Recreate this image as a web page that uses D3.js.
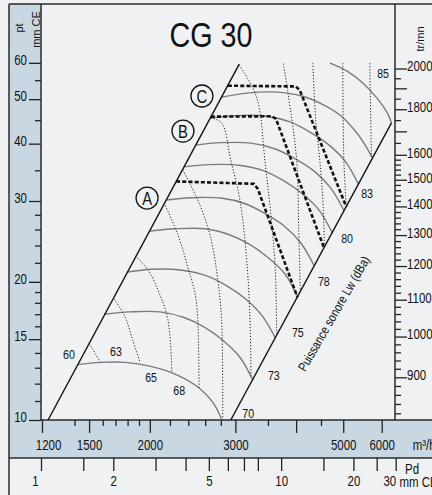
<!DOCTYPE html>
<html>
<head>
<meta charset="utf-8">
<script src="https://cdn.jsdelivr.net/npm/d3@7"></script>
<style>
body { margin: 0; background: #eff1f3; }
svg { display: block; }
text { font-family: "Liberation Sans", Arial, sans-serif; fill: #111; }
</style>
</head>
<body>
<div id="root"></div>
<script>
const width = 432;
const height = 495;
const BAND = '#c9d7e2';
const SX = 0.82; // condensed look

// axes
const flowLabels = [1200, 1500, 2000, 3000, 5000, 6000];
const flowMajor = [1200, 1500, 2000, 3000, 4000, 5000, 6000];
const flowMinor = [1400, 1600, 1700, 1800, 1900, 2200, 2400, 2600, 2800, 3500, 4500];
const pressureLabels = [10, 15, 20, 30, 40, 50, 60];
const pressureMinor = [11, 12, 13, 14, 16, 17, 18, 19, 22, 24, 26, 28, 35, 45, 55];
const rpmLabels = [900, 1000, 1100, 1200, 1300, 1400, 1500, 1600, 1800, 2000];
const rpmLong = [1700, 1900];
const rpmMinor = [820, 840, 860, 880, 920, 940, 960, 980, 1020, 1040, 1060, 1080,
    1120, 1140, 1160, 1180, 1220, 1240, 1260, 1280, 1320, 1340, 1360, 1380,
    1420, 1440, 1460, 1480, 1520, 1540, 1560, 1580, 1650, 1750, 1850, 1950];
const pdLabels = [1, 2, 5, 10, 20, 30];
const pdLong = [1, 1.5, 2, 3, 4, 5, 6, 7, 8, 10, 15, 20, 25, 30];
const pdMinor = [1.1, 1.2, 1.3, 1.4, 1.6, 1.7, 1.8, 1.9, 2.5, 3.5, 4.5, 5.5, 6.5, 7.5, 8.5, 9, 9.5,
    11, 12, 13, 14, 16, 17, 18, 19, 21, 22, 23, 24, 26, 27, 28, 29];

// fan curves [m3/h, mm CE]
const fanCurve01 = [[1420, 13.2], [1580, 13.35], [1780, 13.35], [2000, 13.1], [2290, 12.5], [2510, 11.8], [2700, 10.9], [2815, 10]];
const fanCurve02 = [[1610, 17.0], [1820, 17.2], [2100, 17.2], [2360, 16.7], [2600, 15.9], [2830, 14.9], [3065, 13.7], [3260, 12.2]];
const fanCurve03 = [[1795, 21.0], [2020, 21.3], [2330, 21.2], [2620, 20.6], [2880, 19.6], [3140, 18.4], [3400, 16.9], [3625, 15.1]];
const fanCurve04 = [[2000, 25.8], [2255, 26.1], [2600, 26.1], [2925, 25.3], [3215, 24.1], [3500, 22.6], [3795, 20.8], [4035, 18.5]];
const fanCurve05 = [[2160, 30.15], [2430, 30.5], [2800, 30.45], [3155, 29.55], [3465, 28.1], [3775, 26.5], [4090, 24.3], [4360, 21.65]];
const fanCurve06 = [[2355, 35.6], [2645, 36.0], [3050, 35.9], [3435, 34.9], [3775, 33.2], [4110, 31.2], [4455, 28.7], [4750, 25.55]];
const fanCurve07 = [[2485, 39.7], [2800, 40.2], [3230, 40.1], [3635, 38.9], [3995, 37.0], [4350, 34.9], [4715, 32.0], [5025, 28.5]];
const fanCurve08 = [[2665, 45.5], [2995, 46.05], [3450, 45.95], [3885, 44.6], [4270, 42.4], [4650, 39.9], [5040, 36.7], [5370, 32.7]];
const fanCurve09 = [[2810, 50.5], [3170, 51.55], [3650, 51.8], [4110, 50.8], [4520, 48.8], [4920, 46.2], [5335, 42.2], [5565, 39.5], [5725, 37.4]];
const fanCurve10 = [[4695, 59.9], [5085, 57.6], [5485, 54.2], [5890, 50.0], [6145, 46.9], [6285, 44.4]];
const fanCurves = [fanCurve01, fanCurve02, fanCurve03, fanCurve04, fanCurve05,
    fanCurve06, fanCurve07, fanCurve08, fanCurve09, fanCurve10];

// iso sound lines
const soundLines = [
    [[1500, 14.7], [1580, 13.4]],
    [[1690, 18.35], [1780, 16.75], [1845, 14.9], [1910, 13.35]],
    [[1870, 22.75], [1985, 21.2], [2100, 18.7], [2180, 16.5], [2220, 12.7]],
    [[2140, 29.7], [2285, 25.3], [2395, 21.5], [2490, 18.3], [2525, 11.7]],
    [[2340, 35.0], [2510, 30.15], [2660, 25.3], [2760, 20.2], [2810, 16.5], [2825, 10]],
    [[2670, 45.5], [2810, 44.4], [2935, 36.8], [3065, 30.15], [3165, 22.3], [3215, 16.5], [3230, 12.35]],
    [[3055, 59.3], [3315, 50.6], [3450, 36.8], [3615, 22.3], [3645, 16.5], [3650, 15.4]],
    [[3765, 59.8], [3850, 51.5], [4010, 36.8], [4050, 25.9], [4080, 19.0]],
    [[4330, 59.9], [4390, 45.0], [4475, 36.8], [4540, 30.15], [4575, 23.9]],
    [[4990, 59.9], [5015, 36.8], [5075, 29.1]],
    [[5670, 59.9], [5715, 37.4]]
];
const soundLabels = [
    {t: '60', q: 1364, p: 13.9}, {t: '63', q: 1703, p: 14.13}, {t: '65', q: 2012, p: 12.41},
    {t: '68', q: 2299, p: 11.58}, {t: '70', q: 3187, p: 10.34}, {t: '73', q: 3600, p: 12.53},
    {t: '75', q: 4033, p: 15.48}, {t: '78', q: 4562, p: 19.99}, {t: '80', q: 5093, p: 24.88},
    {t: '83', q: 5599, p: 31.18}, {t: '85', q: 6040, p: 56.9}
];

// limits of the range
const leftLimit = [[1235, 10], [3055, 59.6]];
const rightLimit = [[2935, 10], [6285, 44.4]];

// motor limits A, B, C
const motorA = [[2265, 33.1], [3275, 32.7], [3335, 31.9], [4025, 18.5]];
const motorB = [[2670, 45.8], [3565, 45.9], [3635, 45.3], [4560, 23.8]];
const motorC = [[2895, 53.5], [3995, 53.3], [4070, 52.3], [5075, 29.1]];
const motorTags = [{t: 'A', q: 1974, p: 30.45}, {t: 'B', q: 2340, p: 42.6}, {t: 'C', q: 2560, p: 50.8}];

const svg = d3.select('#root')
    .append('svg')
    .attr('width', width)
    .attr('height', height);

const x = d3.scaleLog().domain([1200, 6390]).range([42, 395]);
const y = d3.scaleLog().domain([10, 80.6]).range([420, 4]);
const yRpm = d3.scaleLog().domain([900, 2000]).range([377.3, 68.5]);
const xPd = d3.scaleLog().domain([1, 30]).range([41, 395.7]);

// squeeze text horizontally around its anchor
const narrow = sel => sel.each(function () {
    const t = d3.select(this);
    const x0 = +t.attr('x') || 0;
    t.attr('x', x0 / SX);
    const dx = t.attr('dx');
    if (dx) t.attr('dx', parseFloat(dx) / SX);
    t.attr('transform', `${t.attr('transform') || ''} scale(${SX},1)`);
});

// background and bands
svg.append('rect').attr('width', width).attr('height', height).attr('fill', '#eff1f3');
svg.append('rect').attr('x', 9).attr('y', 4).attr('width', 32).attr('height', 454).attr('fill', BAND);
svg.append('rect').attr('x', 9).attr('y', 420).attr('width', width - 9).attr('height', 38).attr('fill', BAND);

const frame = svg.append('g').attr('stroke', '#2a2a2a').attr('stroke-width', 1.5);
frame.append('line').attr('x1', 9).attr('x2', 9).attr('y1', 4).attr('y2', height);
frame.append('line').attr('x1', 9).attr('x2', width).attr('y1', 4).attr('y2', 4);
frame.append('line').attr('x1', 9).attr('x2', width).attr('y1', 458).attr('y2', 458);
frame.append('line').attr('x1', 41).attr('x2', width).attr('y1', 420).attr('y2', 420);
frame.append('line').attr('x1', 41).attr('x2', 41).attr('y1', 4).attr('y2', 420);
frame.append('line').attr('x1', 395).attr('x2', 395).attr('y1', 4).attr('y2', 420);

const styleAxis = (g, size) => {
    g.select('.domain').remove();
    g.attr('color', '#222');
    g.selectAll('line').attr('stroke-width', 1.3);
    g.selectAll('text').attr('font-size', size);
};

// pressure axis
svg.append('g').attr('transform', 'translate(41,0)')
    .call(d3.axisLeft(y).tickValues(pressureLabels).tickSize(12).tickPadding(2).tickFormat(d3.format('d')))
    .call(g => styleAxis(g, 14))
    .call(g => g.selectAll('text').attr('dy', '0.12em').call(narrow));
svg.append('g').attr('transform', 'translate(41,0)')
    .call(d3.axisLeft(y).tickValues(pressureMinor).tickSize(6).tickFormat(''))
    .call(g => styleAxis(g, 14));

// flow axis
svg.append('g').attr('transform', 'translate(0,420)')
    .call(d3.axisBottom(x).tickValues(flowMajor).tickSize(13).tickPadding(7)
        .tickFormat(d => flowLabels.includes(d) ? d : ''))
    .call(g => styleAxis(g, 14))
    .call(g => g.selectAll('text').filter(d => d === 1200).attr('dx', 6))
    .call(g => g.selectAll('text').call(narrow));
svg.append('g').attr('transform', 'translate(0,420)')
    .call(d3.axisBottom(x).tickValues(flowMinor).tickSize(6).tickFormat(''))
    .call(g => styleAxis(g, 14));
svg.append('text').attr('x', 412.7).attr('y', 450).attr('font-size', 14).text('m³/h').call(narrow);

// dynamic pressure axis
svg.append('g').attr('transform', 'translate(0,458)')
    .call(d3.axisBottom(xPd).tickValues(pdLong).tickSize(13).tickPadding(5)
        .tickFormat(d => pdLabels.includes(d) ? d : ''))
    .call(g => styleAxis(g, 14))
    .call(g => g.selectAll('text').filter(d => d === 1).attr('dx', -6))
    .call(g => g.selectAll('text').filter(d => d === 30).attr('text-anchor', 'end'))
    .call(g => g.selectAll('text').call(narrow));
svg.append('text').attr('x', 399.5).attr('y', 487).attr('font-size', 14).text('mm CE').call(narrow);
svg.append('text').attr('x', 405).attr('y', 474).attr('font-size', 14).text('Pd').call(narrow);

// rpm axis
svg.append('g').attr('transform', 'translate(395,0)')
    .call(d3.axisRight(yRpm).tickValues(rpmLabels).tickSize(12).tickPadding(0).tickFormat(d3.format('d')))
    .call(g => styleAxis(g, 14))
    .call(g => g.selectAll('text').attr('dy', '0.17em').call(narrow));
svg.append('g').attr('transform', 'translate(395,0)')
    .call(d3.axisRight(yRpm).tickValues(rpmLong).tickSize(12).tickFormat(''))
    .call(g => styleAxis(g, 14));
svg.append('g').attr('transform', 'translate(395,0)')
    .call(d3.axisRight(yRpm).tickValues(rpmMinor).tickSize(6).tickFormat(''))
    .call(g => styleAxis(g, 14));

// axis titles
svg.append('text').attr('font-size', 11)
    .attr('transform', 'translate(23,28) rotate(-90)').attr('text-anchor', 'middle').text('pt');
svg.append('text').attr('font-size', 11)
    .attr('transform', 'translate(39.5,29.5) rotate(-90)').attr('text-anchor', 'middle').text('mm CE');
svg.append('text').attr('font-size', 11)
    .attr('transform', 'translate(424,39) rotate(-90)').attr('text-anchor', 'middle').text('tr/mn');

// title
svg.append('text').attr('x', 211).attr('y', 46.7).attr('font-size', 35)
    .attr('text-anchor', 'middle').text('CG 30').call(narrow);

const plot = svg.append('g');
const smooth = d3.line().x(d => x(d[0])).y(d => y(d[1])).curve(d3.curveCatmullRom.alpha(0.5));
const straight = d3.line().x(d => x(d[0])).y(d => y(d[1]));

plot.selectAll('path.fan')
    .data(fanCurves)
    .join('path')
    .attr('class', 'fan')
    .attr('d', smooth)
    .attr('fill', 'none')
    .attr('stroke', '#7b7b7b')
    .attr('stroke-width', 1.4);

plot.selectAll('path.sound')
    .data(soundLines)
    .join('path')
    .attr('class', 'sound')
    .attr('d', smooth)
    .attr('fill', 'none')
    .attr('stroke', '#222')
    .attr('stroke-width', 1)
    .attr('stroke-dasharray', '1.2 1.8');

plot.selectAll('path.limit')
    .data([leftLimit, rightLimit])
    .join('path')
    .attr('class', 'limit')
    .attr('d', straight)
    .attr('fill', 'none')
    .attr('stroke', '#111')
    .attr('stroke-width', 1.4);

plot.selectAll('path.motor')
    .data([motorA, motorB, motorC])
    .join('path')
    .attr('class', 'motor')
    .attr('d', straight)
    .attr('fill', 'none')
    .attr('stroke', '#111')
    .attr('stroke-width', 2.6)
    .attr('stroke-dasharray', '4 2.2');

plot.selectAll('text.lw')
    .data(soundLabels)
    .join('text')
    .attr('class', 'lw')
    .attr('x', d => x(d.q))
    .attr('y', d => y(d.p))
    .attr('dy', '0.35em')
    .attr('text-anchor', 'middle')
    .attr('font-size', 13)
    .text(d => d.t)
    .call(narrow);

const tag = plot.selectAll('g.tag')
    .data(motorTags)
    .join('g')
    .attr('class', 'tag')
    .attr('transform', d => `translate(${x(d.q)},${y(d.p)})`);
tag.append('circle').attr('r', 11).attr('fill', 'none').attr('stroke', '#111').attr('stroke-width', 1.3);
tag.append('text').attr('text-anchor', 'middle').attr('dy', '0.36em')
    .attr('font-size', 18).text(d => d.t).call(narrow);

// sound power caption along the right limit
const capQ = 4783, capP = 17.06;
svg.append('text')
    .attr('transform', `translate(${x(capQ)},${y(capP)}) rotate(-60)`)
    .attr('text-anchor', 'middle')
    .attr('dy', '0.35em')
    .attr('font-size', 13)
    .text('Puissance sonore Lw (dBa)')
    .call(narrow);
</script>
</body>
</html>
